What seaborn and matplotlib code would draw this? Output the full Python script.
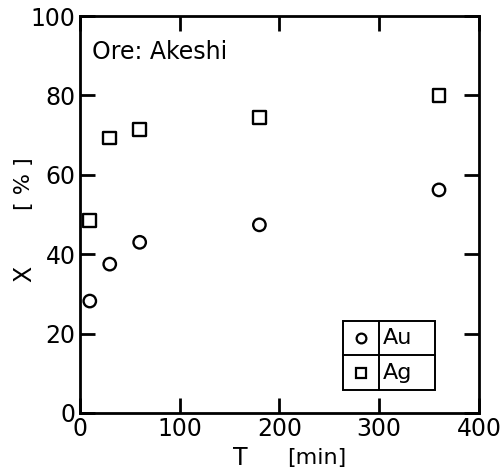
import matplotlib
matplotlib.use("Agg")
import pandas as pd
import matplotlib.pyplot as plt
import seaborn as sns
from matplotlib.patches import Rectangle

# leaching time [min] and extraction X [%]
time_min = [10, 30, 60, 180, 360]
x_au = [28.2, 37.5, 43.0, 47.4, 56.2]
x_ag = [48.4, 69.3, 71.5, 74.4, 80.0]
metals = ["Au", "Ag"]
x_ticks = [0, 100, 200, 300, 400]
y_ticks = [0, 20, 40, 60, 80, 100]

df = pd.DataFrame({
    "T": time_min * 2,
    "X": x_au + x_ag,
    "metal": ["Au"] * len(time_min) + ["Ag"] * len(time_min),
})

sns.set_style("ticks")
plt.rcParams["font.family"] = ["DejaVu Sans Condensed", "DejaVu Sans"]
plt.rcParams["text.color"] = "black"
plt.rcParams["xtick.color"] = "black"
plt.rcParams["ytick.color"] = "black"

fig = plt.figure(figsize=(5.02, 4.72), dpi=100)
ax = fig.add_axes([0.159, 0.125, 0.795, 0.841])

markers = {"Au": "o", "Ag": "s"}
sizes = {"Au": 80, "Ag": 85}
for m in metals:
    sub = df[df["metal"] == m]
    sns.scatterplot(data=sub, x="T", y="X", marker=markers[m], s=sizes[m],
                    facecolor="none", edgecolor="black", linewidth=1.7,
                    legend=False, ax=ax)

ax.set_xlim(0, 400)
ax.set_ylim(0, 100)
ax.set_xticks(x_ticks)
ax.set_yticks(y_ticks)
ax.set_xlabel("")
ax.set_ylabel("")
for s in ax.spines.values():
    s.set_linewidth(2.0)
    s.set_color("black")
ax.tick_params(direction="in", length=11, width=2.0, top=True, right=True,
               labelsize=17, pad=3)

ax.text(0.03, 0.91, "Ore: Akeshi", transform=ax.transAxes, fontsize=17,
        ha="left", va="center")

# axis labels
fig.text(0.048, 0.42, "X", rotation=90, fontsize=17, ha="center", va="center")
fig.text(0.048, 0.612, "[ % ]", rotation=90, fontsize=16, ha="center", va="center")
fig.text(0.478, 0.03, "T", fontsize=17, ha="center", va="center")
fig.text(0.630, 0.03, "[min]", fontsize=16, ha="center", va="center")

# boxed legend table
x0, x1, xd = 0.659, 0.890, 0.749
y0, y1, yd = 0.058, 0.232, 0.146
ax.add_patch(Rectangle((x0, y0), x1 - x0, y1 - y0, transform=ax.transAxes,
                       fill=False, lw=1.4, ec="black"))
ax.plot([xd, xd], [y0, y1], transform=ax.transAxes, color="black", lw=1.4)
ax.plot([x0, x1], [yd, yd], transform=ax.transAxes, color="black", lw=1.4)
for m, yc in zip(metals, [(yd + y1) / 2, (y0 + yd) / 2]):
    ax.plot([(x0 + xd) / 2], [yc], transform=ax.transAxes, marker=markers[m],
            ms=7, mfc="none", mec="black", mew=1.6, ls="none")
    ax.text(xd + 0.01, yc, m, transform=ax.transAxes, fontsize=16,
            ha="left", va="center")

fig.savefig("out.png", dpi=100)
